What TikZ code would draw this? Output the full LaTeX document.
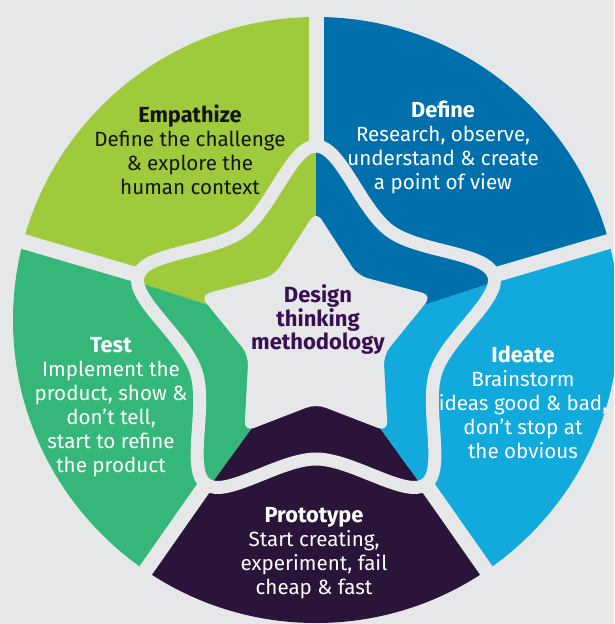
\documentclass[tikz,border=0pt]{standalone}
\usepackage{fontspec}
\setmainfont{Fira Sans}
\usepackage{xcolor}
\usetikzlibrary{positioning, calc}

\definecolor{bg}{RGB}{230,231,233}
\definecolor{empathize}{RGB}{158,202,59}
\definecolor{define}{RGB}{0,112,173}
\definecolor{ideate}{RGB}{18,169,220}
\definecolor{prototype}{RGB}{43,20,58}
\definecolor{test}{RGB}{54,183,122}
\definecolor{ink}{RGB}{20,20,20}
\definecolor{hub}{RGB}{59,16,83}

\newcommand{\phasetitle}[1]{{\fontsize{10.9}{12}\selectfont\textbf{#1}}}

\begin{document}
\begin{tikzpicture}[x=0.5pt, y=0.5pt,
        phase/.style={align=center, text=white, font=\fontsize{10.3}{12}\selectfont},
        gap/.style={line width=7.5pt, color=bg},
        band/.style={line width=6.5pt, color=bg}]
    \clip (-316,-284) rectangle (298,340);
    \fill[bg] (-316,-284) rectangle (298,340);
    \coordinate (O) at (0,0);
    \coordinate (S) at (0,7);

    % the five phases
    \begin{scope}
        \clip (0,20) circle (303);
        \fill[empathize] (O) -- (90:450) -- (126:450) -- (162:450) -- cycle;
        \fill[test] (O) -- (162:450) -- (198:450) -- (234:450) -- cycle;
        \fill[prototype] (O) -- (234:450) -- (270:450) -- (306:450) -- cycle;
        \fill[ideate] (O) -- (306:450) -- (342:450) -- (378:450) -- cycle;
        \fill[define] (O) -- (18:450) -- (54:450) -- (90:450) -- cycle;
    \end{scope}

    % wavy ring and star
    \begin{scope}[shift={(S)}]
        \coordinate (tip1) at (90:187);
        \coordinate (tip2) at (162:187);
        \coordinate (tip3) at (234:187);
        \coordinate (tip4) at (306:187);
        \coordinate (tip5) at (18:187);
        \draw[band] plot[smooth cycle, tension=0.6] coordinates {(90:187) (54:126) (18:187) (342:126) (306:187) (270:126) (234:187) (198:126) (162:187) (126:126)};
        \fill[bg, rounded corners=5pt] (90:122) -- (54:71) -- (18:122) -- (342:71) -- (306:122) -- (270:71) -- (234:122) -- (198:71) -- (162:122) -- (126:71) -- cycle;
    \end{scope}

    \draw[gap] (tip1) -- (90:420);
    \draw[gap] (tip2) -- (162:420);
    \draw[gap] (tip3) -- (234:420);
    \draw[gap] (tip4) -- (306:420);
    \draw[gap] (tip5) -- (18:420);

    \node[phase, text=ink] (empathize) at (-126,190) {\phasetitle{Empathize}\\Define the challenge\\\& explore the\\human context};
    \node[phase] (define) at (127,193) {\phasetitle{Define}\\Research, observe,\\understand \& create\\a point of view};
    \node[phase] (ideate) at (207,-62) {\phasetitle{Ideate}\\Brainstorm\\ideas good \& bad,\\don’t stop at\\the obvious};
    \node[phase] (test) at (-205,-67) {\phasetitle{Test}\\Implement the\\product, show \&\\don’t tell,\\start to refine\\the product};
    \node[phase] (prototype) at (-2,-213) {\phasetitle{Prototype}\\Start creating,\\experiment, fail\\cheap \& fast};
    \node[align=center, text=hub, font=\bfseries\fontsize{11}{11.75}\selectfont] (hub) at (2,20) {Design\\thinking\\methodology};
\end{tikzpicture}
\end{document}
